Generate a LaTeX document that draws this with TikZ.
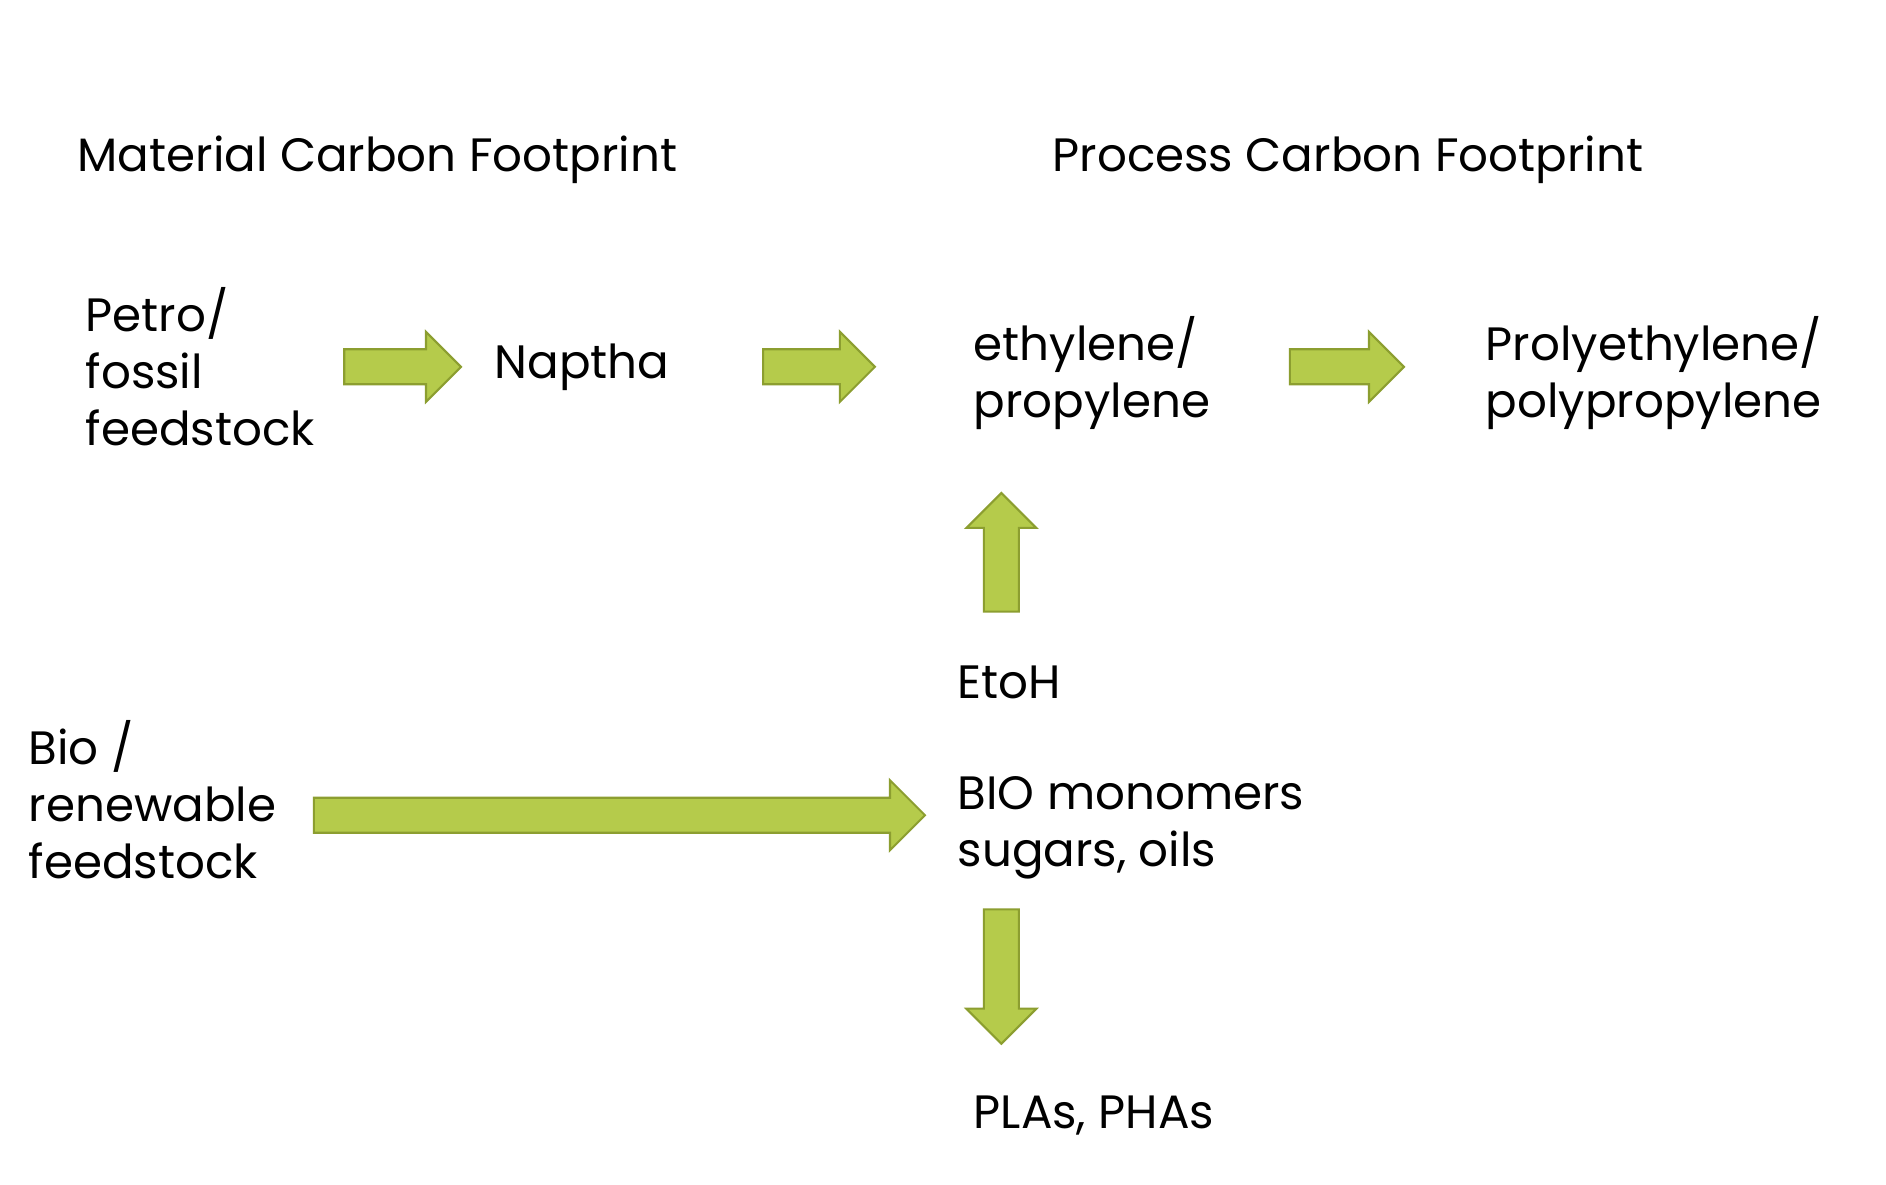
\documentclass[tikz,border=0pt]{standalone}
\usepackage{fontspec}
\setmainfont{Poppins}
\usetikzlibrary{calc}
\definecolor{arrowgreen}{HTML}{B5CB4B}
\definecolor{arrowedge}{HTML}{8C9E30}

\tikzset{
    start gap/.initial=0pt,
    end gap/.initial=0pt
}

\begin{document}
\begin{tikzpicture}[
    x=0.01cm, y=-0.01cm,
    every node/.style={font=\fontsize{13.3}{16.2}\selectfont},
    txt/.style={
        inner sep=0pt,
        align=left,
        anchor=base west
    },
    blockarrow/.style={
        fill=arrowgreen,
        draw=arrowedge,
        line width=0.6pt,
        to path={
            let \p1=($(\tikztostart)!\pgfkeysvalueof{/tikz/start gap}!(\tikztotarget)$),
                \p2=($(\tikztotarget)!\pgfkeysvalueof{/tikz/end gap}!(\tikztostart)$) in
            ($(\p1)!0.175cm!90:(\p2)$)
            -- ($(\p2)!0.35cm!(\p1)!0.175cm!-90:(\p1)$)
            -- ($(\p2)!0.35cm!(\p1)!0.35cm!-90:(\p1)$)
            -- (\p2)
            -- ($(\p2)!0.35cm!(\p1)!0.35cm!90:(\p1)$)
            -- ($(\p2)!0.35cm!(\p1)!0.175cm!90:(\p1)$)
            -- ($(\p1)!0.175cm!-90:(\p2)$)
            -- cycle
        }
    }
]
\useasboundingbox (0,0) rectangle (1886,1184);
\fill[white] (0,0) rectangle (1886,1184);

% Titles
\node[txt] (mattitle) at (77,171) {Material Carbon Footprint};
\node[txt] (proctitle) at (1052,171) {Process Carbon Footprint};

% Petro route (base = last line)
\node[txt] (petro) at (85,445) {Petro/\\fossil\\feedstock};
\node[txt] (naptha) at (494,378) {Naptha};
\node[txt] (ethyl) at (973,417) {ethylene/\\propylene};
\node[txt] (poly) at (1485,417) {Prolyethylene/\\polypropylene};

% Bio route
\node[txt] (etoh) at (957,698) {EtoH};
\node[txt] (biomono) at (957,866) {BIO monomers\\sugars, oils};
\node[txt] (renew) at (28,878) {Bio /\\renewable\\feedstock};
\node[txt] (plas) at (973,1128) {PLAs, PHAs};

% Arrows - horizontal
\draw[blockarrow, start gap=0.29cm, end gap=0.33cm] (petro.east |- naptha.west) to (naptha.west);
\draw[blockarrow, start gap=0.93cm, end gap=0.98cm] (naptha.east) to (naptha.east -| ethyl.west);
\draw[blockarrow, start gap=0.79cm, end gap=0.81cm] (naptha.east -| ethyl.east) to (naptha.east -| poly.west);
\draw[blockarrow, start gap=0.37cm, end gap=0.32cm] ([yshift=-0.16cm]renew.east) to ([yshift=-0.16cm]renew.east -| biomono.west);

% Arrows - vertical
\draw[blockarrow, start gap=0.53cm, end gap=0.63cm] ([xshift=-0.08cm]etoh.north) to ([xshift=-0.08cm]etoh.north |- ethyl.south);
\draw[blockarrow, start gap=0.30cm, end gap=0.51cm] ([xshift=-0.08cm]etoh.south |- biomono.south) to ([xshift=-0.08cm]etoh.south |- plas.north);

\end{tikzpicture}
\end{document}
